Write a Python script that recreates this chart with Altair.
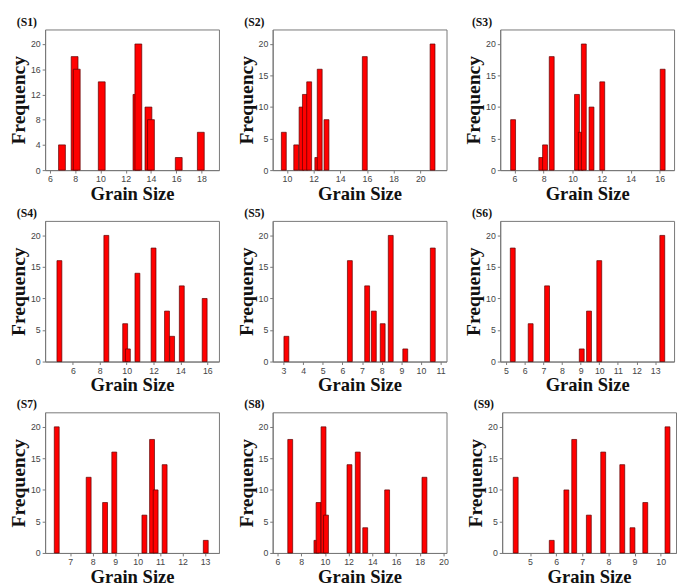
import altair as alt
import pandas as pd

# ---- data (grain size, frequency) ----
s1_size = [6.95, 7.95, 8.12, 10.1, 12.85, 13.0, 13.8, 14.0, 16.2, 17.95]
s1_freq = [4, 18, 16, 14, 12, 20, 10, 8, 2, 6]

s2_size = [9.77, 10.7, 11.1, 11.35, 11.67, 12.28, 12.46, 12.97, 15.84, 20.92]
s2_freq = [6, 4, 10, 12, 14, 2, 16, 8, 18, 20]

s3_size = [5.9, 7.84, 8.1, 8.56, 10.3, 10.56, 10.77, 11.3, 12.04, 16.2]
s3_freq = [8, 2, 4, 18, 12, 6, 20, 10, 14, 16]

s4_size = [5.0, 8.49, 9.89, 10.09, 10.8, 12.0, 13.0, 13.38, 14.1, 15.8]
s4_freq = [16, 20, 6, 2, 14, 18, 8, 4, 12, 10]

s5_size = [3.15, 6.38, 7.26, 7.6, 8.05, 8.46, 9.2, 10.6]
s5_freq = [4, 16, 12, 8, 6, 20, 2, 18]

s6_size = [5.36, 6.32, 7.2, 9.06, 9.45, 10.0, 13.38]
s6_freq = [18, 6, 12, 2, 8, 16, 20]

s7_size = [6.4, 7.82, 8.55, 8.96, 10.3, 10.64, 10.8, 11.2, 13.03]
s7_freq = [20, 12, 8, 16, 6, 18, 10, 14, 2]

s8_size = [7.07, 9.28, 9.46, 9.88, 10.09, 12.07, 12.77, 13.4, 15.25, 18.4]
s8_freq = [18, 2, 8, 20, 6, 14, 16, 4, 10, 12]

s9_size = [4.45, 5.83, 6.39, 6.69, 7.25, 7.8, 8.53, 8.92, 9.41, 10.26]
s9_freq = [12, 2, 10, 18, 6, 16, 14, 4, 8, 20]

labels = ["(S1)", "(S2)", "(S3)", "(S4)", "(S5)", "(S6)", "(S7)", "(S8)", "(S9)"]

x_domains = [[6, 19], [9.3, 21.6], [5.35, 16.65],
             [4.3, 16.5], [2.7, 11.05], [4.95, 13.75],
             [6.1, 13.4], [6, 19.85], [4.12, 10.4]]
x_ticks = [[6, 8, 10, 12, 14, 16, 18], [10, 12, 14, 16, 18, 20], [6, 8, 10, 12, 14, 16],
           [6, 8, 10, 12, 14, 16], [3, 4, 5, 6, 7, 8, 9, 10, 11], [5, 6, 7, 8, 9, 10, 11, 12, 13],
           [7, 8, 9, 10, 11, 12, 13], [6, 8, 10, 12, 14, 16, 18, 20], [5, 6, 7, 8, 9, 10]]
y_ticks_s1 = [0, 4, 8, 12, 16, 20]
y_ticks_other = [0, 5, 10, 15, 20]

sizes = [s1_size, s2_size, s3_size, s4_size, s5_size, s6_size, s7_size, s8_size, s9_size]
freqs = [s1_freq, s2_freq, s3_freq, s4_freq, s5_freq, s6_freq, s7_freq, s8_freq, s9_freq]

W, H = 178, 144
SERIF = "Liberation Serif"
SANS = "Liberation Sans"


def panel(i):
    df = pd.DataFrame({"size": sizes[i], "freq": freqs[i]})
    bar_px = 7 if i == 0 else 5
    yt = y_ticks_s1 if i == 0 else y_ticks_other
    return alt.Chart(df).mark_bar(
        size=bar_px, color="#ff0000", stroke="#5a0000", strokeWidth=0.7
    ).encode(
        x=alt.X("size:Q", scale=alt.Scale(domain=x_domains[i], nice=False, zero=False),
                axis=alt.Axis(title="Grain Size", values=x_ticks[i], format="d")),
        y=alt.Y("freq:Q", scale=alt.Scale(domain=[0, 22.3], nice=False),
                axis=alt.Axis(title="Frequency", values=yt)),
    ).properties(
        width=W, height=H,
        title=alt.TitleParams(labels[i], anchor="start", dx=8, fontSize=12,
                              font=SERIF, fontWeight="bold", offset=1, color="#111"),
    )


rows = []
for r in range(3):
    rows.append(alt.hconcat(*[panel(3 * r + c) for c in range(3)], spacing=16))

chart = alt.vconcat(*rows, spacing=2).properties(
    padding={"left": 0, "top": 0, "right": 0, "bottom": 0}
).configure_view(
    stroke="#777", strokeWidth=1
).configure_axis(
    grid=False,
    domainColor="#777",
    tickColor="#777",
    tickSize=3,
    labelFont=SANS,
    labelFontSize=9,
    labelColor="#444",
    labelPadding=2,
    titleFont=SERIF,
    titleFontWeight="bold",
    titleColor="#111",
).configure_axisX(
    titleFontSize=19, titlePadding=1
).configure_axisY(
    titleFontSize=20, titlePadding=2
)

chart.save("out.html", embed_options={"renderer": "svg", "actions": False})
